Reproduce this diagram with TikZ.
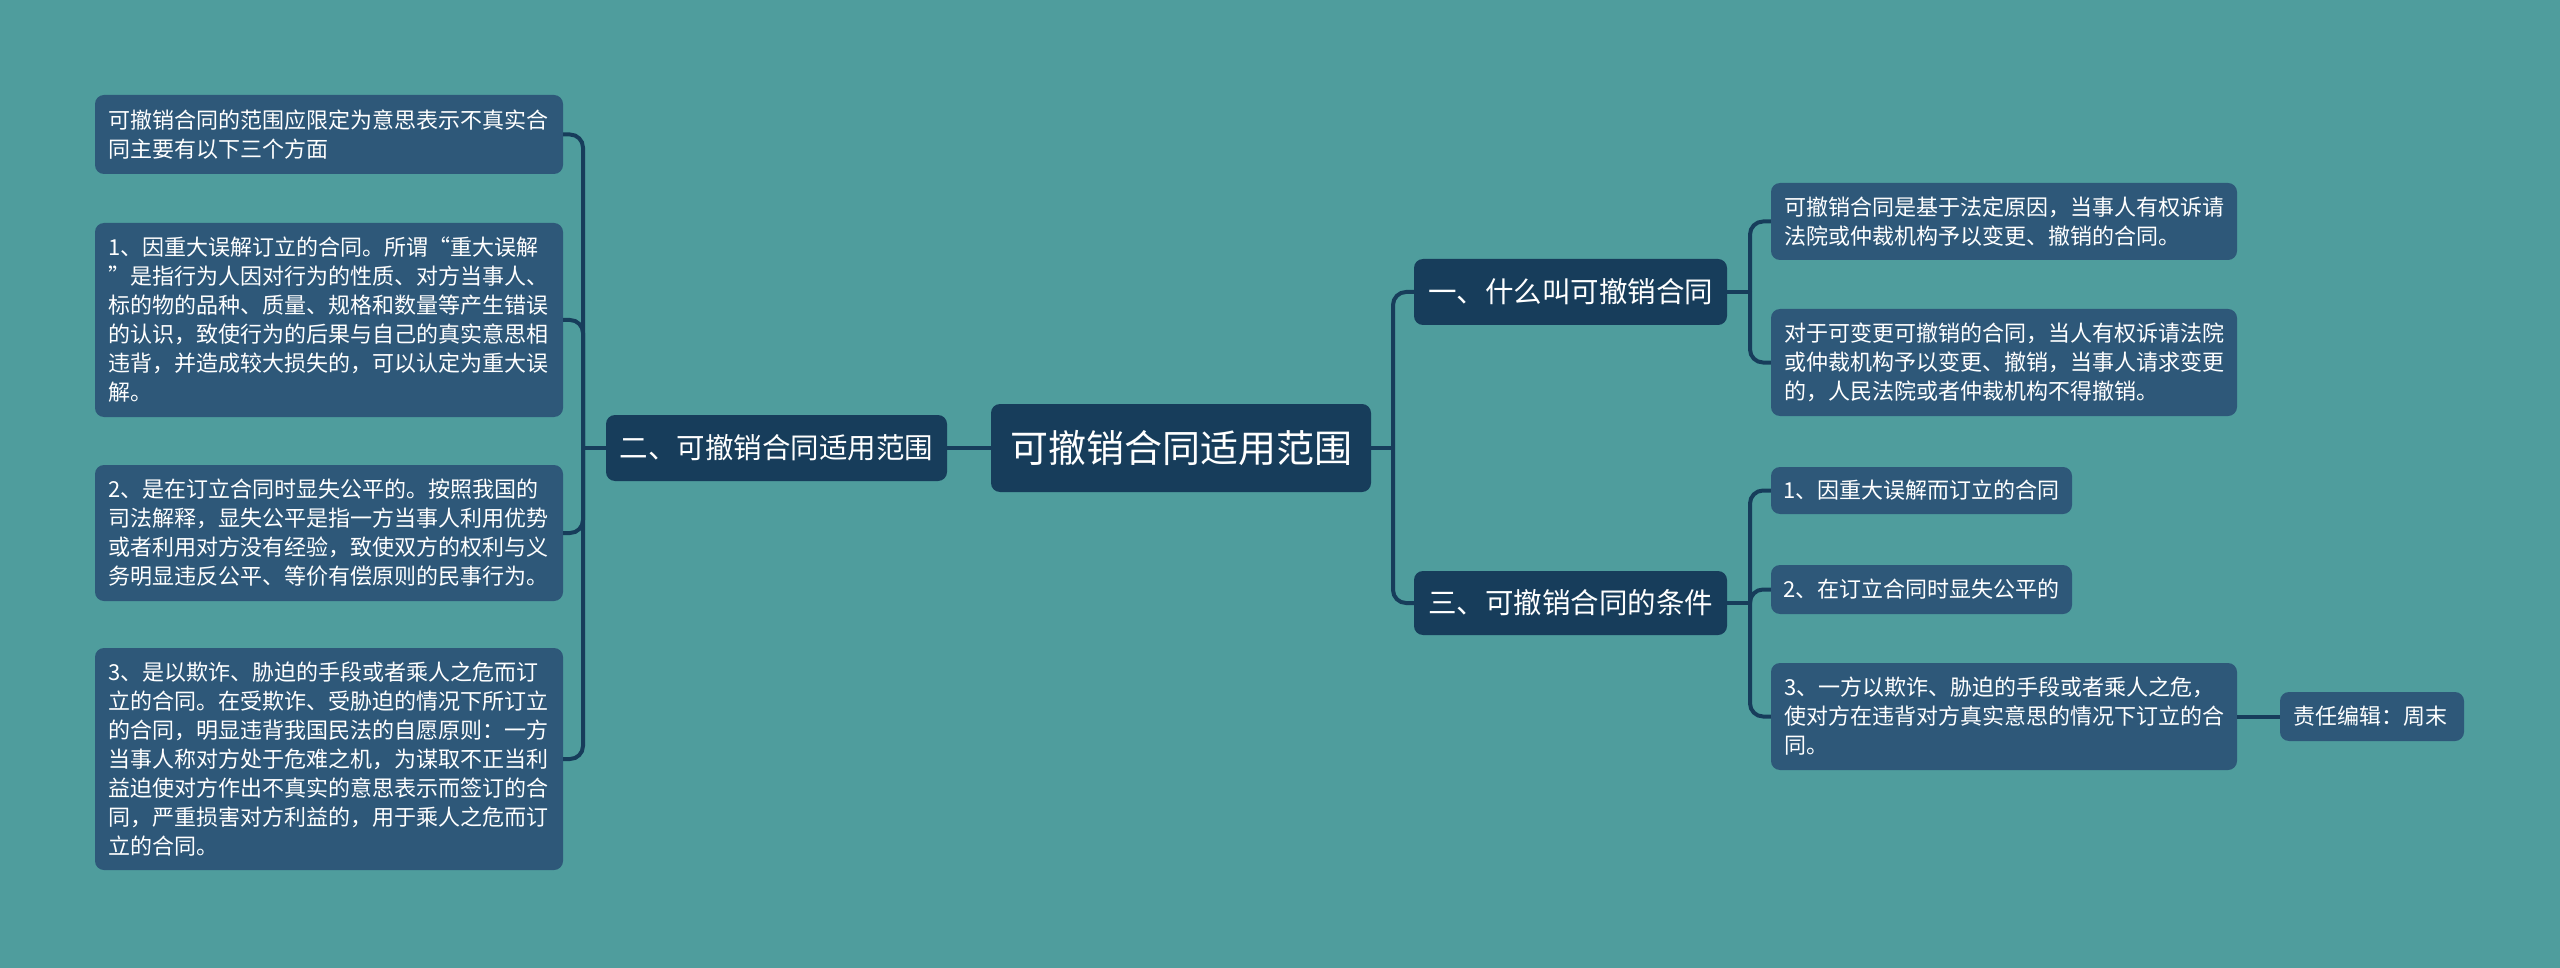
\documentclass[tikz,border=0pt]{standalone}
\usepackage{fontspec}
\newfontfamily\cjk{Noto Sans CJK SC}
\definecolor{bg}{HTML}{4F9D9D}
\definecolor{mainc}{HTML}{173D5B}
\definecolor{leafc}{HTML}{2E5879}
\definecolor{linec}{HTML}{173D5B}
\begin{document}
\begin{tikzpicture}[x=1pt,y=-1pt,
 box/.style={rounded corners=9pt, text=white, inner ysep=0pt, inner xsep=13pt, anchor=center},
 leaf/.style={box, fill=leafc, align=left, font=\cjk\fontsize{22}{29}\selectfont},
 mainn/.style={box, fill=mainc, align=center, font=\cjk\fontsize{28.5}{34}\selectfont},
 rootn/.style={box, fill=mainc, align=center, inner xsep=18pt, font=\cjk\fontsize{38}{44}\selectfont},
 conn/.style={draw=linec, line width=4pt, rounded corners=13pt}]
\fill[bg] (0,0) rectangle (2560,968);
\useasboundingbox (0,0) rectangle (2560,968);

% central and main nodes
\node[rootn, text width=344pt, minimum height=88pt] (root) at (1181,448) {可撤销合同适用范围};
\node[mainn, text width=315pt, minimum height=66pt] (n2) at (776.5,448) {二、可撤销合同适用范围};
\node[mainn, text width=287pt, minimum height=66pt] (n1) at (1570.5,292) {一、什么叫可撤销合同};
\node[mainn, text width=287pt, minimum height=64pt] (n3) at (1570.5,603) {三、可撤销合同的条件};

% left leaves
\node[leaf, text width=442pt, minimum height=79pt] (l0) at (329,134.5) {可撤销合同的范围应限定为意思表示不真实合\\同主要有以下三个方面};
\node[leaf, text width=442pt, minimum height=194pt] (l1) at (329,320) {1、因重大误解订立的合同。所谓“重大误解\\”是指行为人因对行为的性质、对方当事人、\\标的物的品种、质量、规格和数量等产生错误\\的认识，致使行为的后果与自己的真实意思相\\违背，并造成较大损失的，可以认定为重大误\\解。};
\node[leaf, text width=442pt, minimum height=136pt] (l2) at (329,533) {2、是在订立合同时显失公平的。按照我国的\\司法解释，显失公平是指一方当事人利用优势\\或者利用对方没有经验，致使双方的权利与义\\务明显违反公平、等价有偿原则的民事行为。};
\node[leaf, text width=442pt, minimum height=222pt] (l3) at (329,759) {3、是以欺诈、胁迫的手段或者乘人之危而订\\立的合同。在受欺诈、受胁迫的情况下所订立\\的合同，明显违背我国民法的自愿原则：一方\\当事人称对方处于危难之机，为谋取不正当利\\益迫使对方作出不真实的意思表示而签订的合\\同，严重损害对方利益的，用于乘人之危而订\\立的合同。};

% right leaves
\node[leaf, text width=440pt, minimum height=77pt] (a) at (2004,221.5) {可撤销合同是基于法定原因，当事人有权诉请\\法院或仲裁机构予以变更、撤销的合同。};
\node[leaf, text width=440pt, minimum height=107pt] (b) at (2004,362.5) {对于可变更可撤销的合同，当人有权诉请法院\\或仲裁机构予以变更、撤销，当事人请求变更\\的，人民法院或者仲裁机构不得撤销。};
\node[leaf, text width=276pt, inner xsep=12.5pt, minimum height=47pt] (c1) at (1921.5,490.5) {1、因重大误解而订立的合同};
\node[leaf, text width=276pt, inner xsep=12.5pt, minimum height=49pt] (c2) at (1921.5,589.5) {2、在订立合同时显失公平的};
\node[leaf, text width=440pt, minimum height=107pt] (c3) at (2004,716.5) {3、一方以欺诈、胁迫的手段或者乘人之危，\\使对方在违背对方真实意思的情况下订立的合\\同。};
\node[leaf, text width=158pt, minimum height=49pt] (ed) at (2372,716.5) {责任编辑：周末};

% trunk points
\coordinate (tl) at (583,448);
\coordinate (tr) at (1393,448);
\coordinate (t1) at (1750,292);
\coordinate (t3) at (1750,603);

% connectors
\draw[conn] (n2.east) -- (root.west);
\draw[conn] (n2.west) -- (tl);
\foreach \c in {l0,l1,l2,l3} \draw[conn] (tl) |- (\c.east);
\draw[conn] (root.east) -- (tr);
\draw[conn] (tr) |- (n1.west);
\draw[conn] (tr) |- (n3.west);
\draw[conn] (n1.east) -- (t1);
\draw[conn] (t1) |- (a.west);
\draw[conn] (t1) |- (b.west);
\draw[conn] (n3.east) -- (t3);
\draw[conn] (t3) |- (c1.west);
\draw[conn] (t3) |- (c2.west);
\draw[conn] (t3) |- (c3.west);
\draw[conn] (c3.east) -- (ed.west);
\end{tikzpicture}
\end{document}
